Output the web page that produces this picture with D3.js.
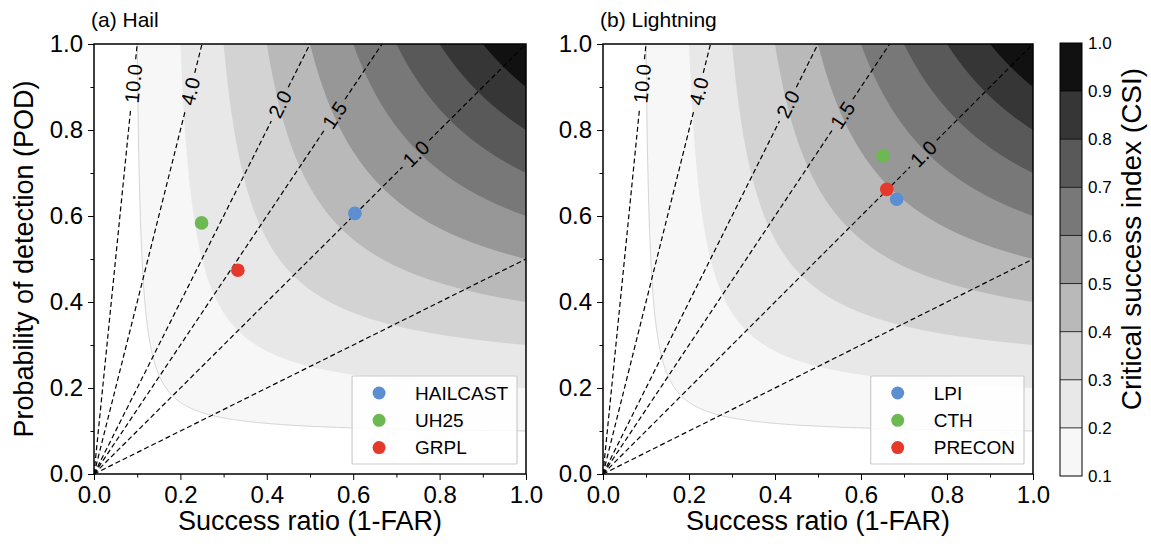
<!DOCTYPE html>
<html>
<head>
<meta charset="utf-8">
<script src="https://cdn.jsdelivr.net/npm/d3@7"></script>
<style>
  html, body { margin: 0; padding: 0; background: #fff; }
  svg { display: block; font-family: "Liberation Sans", Arial, Helvetica, sans-serif; }
</style>
</head>
<body>
<svg id="chart" width="1151" height="546"></svg>
<script>
// ---- data ----
const panelTitles = ["(a) Hail", "(b) Lightning"];

const hailNames = ["HAILCAST", "UH25", "GRPL"];
const hailSR    = [0.604, 0.249, 0.333];
const hailPOD   = [0.606, 0.584, 0.474];

const ltgNames = ["LPI", "CTH", "PRECON"];
const ltgSR    = [0.683, 0.651, 0.660];
const ltgPOD   = [0.639, 0.740, 0.662];

const markerColors = ["#5b8fd1", "#6cb952", "#e53a2b"];

// CSI filled-contour levels and their greys
const csiLevels = [0.1, 0.2, 0.3, 0.4, 0.5, 0.6, 0.7, 0.8, 0.9, 1.0];
const csiColors = ["#f7f7f7", "#e8e8e8", "#d3d3d3", "#b9b9b9", "#979797",
                   "#787878", "#595959", "#363636", "#111111"];

// frequency-bias reference lines, with label position (POD along the line)
const biasValues = [0.5, 1.0, 1.5, 2.0, 4.0, 10.0];
const biasLabels = [null, "1.0", "1.5", "2.0", "4.0", "10.0"];
const biasLabelPOD = [null, 0.745, 0.835, 0.86, 0.89, 0.908];

const axisTicks = [0.0, 0.2, 0.4, 0.6, 0.8, 1.0];
const minorTicks = [0.1, 0.3, 0.5, 0.7, 0.9];
const cbarTicks = [0.1, 0.2, 0.3, 0.4, 0.5, 0.6, 0.7, 0.8, 0.9, 1.0];

// ---- layout ----
const svg = d3.select("#chart");
const plotTop = 44, plotBottom = 474;
const panels = [
  { title: panelTitles[0], x0: 94,  x1: 526,  names: hailNames, sr: hailSR, pod: hailPOD, ylabel: true },
  { title: panelTitles[1], x0: 603, x1: 1033, names: ltgNames,  sr: ltgSR,  pod: ltgPOD,  ylabel: false }
];

const fmt = d3.format(".1f");

// CSI isoline: CSI = 1 / (1/SR + 1/POD - 1), parametrised symmetrically
function csiCurve(c, n) {
  const K = 1 / c - 1;
  const pts = [];
  for (let i = 0; i <= n; i++) {
    const u = i / n;
    pts.push([1 / (1 + K * u), 1 / (1 + K * (1 - u))]);
  }
  return pts;
}

panels.forEach((p, pi) => {
  const x = d3.scaleLinear().domain([0, 1]).range([p.x0, p.x1]);
  const y = d3.scaleLinear().domain([0, 1]).range([plotBottom, plotTop]);
  const g = svg.append("g");

  const clipId = "clip" + pi;
  svg.append("clipPath").attr("id", clipId)
    .append("rect").attr("x", p.x0).attr("y", plotTop)
    .attr("width", p.x1 - p.x0).attr("height", plotBottom - plotTop);

  const plot = g.append("g").attr("clip-path", `url(#${clipId})`);
  plot.append("rect").attr("x", p.x0).attr("y", plotTop)
    .attr("width", p.x1 - p.x0).attr("height", plotBottom - plotTop).attr("fill", "#fff");

  const line = d3.line().x(d => x(d[0])).y(d => y(d[1]));

  // filled CSI bands
  csiColors.forEach((col, i) => {
    const c = csiLevels[i];
    const pts = csiCurve(c, 1200);
    pts.push([1, 1]);
    plot.append("path").attr("d", line(pts) + "Z").attr("fill", col).attr("stroke", "none");
  });
  // faint outline of the lowest CSI level
  plot.append("path").attr("d", line(csiCurve(csiLevels[0], 1200)))
    .attr("fill", "none").attr("stroke", "#a8a8a8").attr("stroke-width", 0.5);

  // frequency-bias lines with inline labels
  biasValues.forEach((b, i) => {
    const end = b >= 1 ? [1 / b, 1] : [1, b];
    const X0 = x(0), Y0 = y(0), X1 = x(end[0]), Y1 = y(end[1]);
    const lab = biasLabels[i];
    const dash = { stroke: "#000", "stroke-width": 1.2, "stroke-dasharray": "5,3", fill: "none" };
    const seg = (a, bb) => {
      const s = plot.append("line").attr("x1", a[0]).attr("y1", a[1]).attr("x2", bb[0]).attr("y2", bb[1]);
      Object.entries(dash).forEach(([k, v]) => s.attr(k, v));
    };
    if (!lab) { seg([X0, Y0], [X1, Y1]); return; }
    const lp = biasLabelPOD[i];
    const LX = x(lp / b), LY = y(lp);
    const len = Math.hypot(X1 - X0, Y1 - Y0);
    const ux = (X1 - X0) / len, uy = (Y1 - Y0) / len;
    const angle = Math.atan2(-(Y1 - Y0), X1 - X0) * 180 / Math.PI;
    const t = g.append("text").attr("x", 0).attr("y", 0)
      .attr("transform", `translate(${LX},${LY}) rotate(${-angle})`)
      .attr("text-anchor", "middle").attr("dy", "0.36em")
      .attr("font-size", 20).attr("fill", "#000").text(lab);
    const half = t.node().getComputedTextLength() / 2 + 5;
    seg([X0, Y0], [LX - ux * half, LY - uy * half]);
    seg([LX + ux * half, LY + uy * half], [X1, Y1]);
  });

  // forecast points
  p.names.forEach((nm, i) => {
    plot.append("circle").attr("cx", x(p.sr[i])).attr("cy", y(p.pod[i]))
      .attr("r", 6.8).attr("fill", markerColors[i]);
  });

  // legend
  const legFont = 19;
  const tmp = g.append("g");
  let maxW = 0;
  p.names.forEach(nm => {
    const tt = tmp.append("text").attr("font-size", legFont).text(nm);
    maxW = Math.max(maxW, tt.node().getComputedTextLength());
  });
  tmp.remove();
  const legRight = p.x1 - 9, legW = 63 + maxW + 9;
  const legLeft = legRight - legW, legTop = 376, legBot = 464;
  const leg = g.append("g");
  leg.append("rect").attr("x", legLeft).attr("y", legTop).attr("width", legW).attr("height", legBot - legTop)
    .attr("fill", "#fff").attr("fill-opacity", 0.85).attr("stroke", "#cccccc").attr("stroke-width", 1.2).attr("rx", 1);
  p.names.forEach((nm, i) => {
    const cy = 393 + i * 27.3;
    leg.append("circle").attr("cx", legLeft + 27).attr("cy", cy).attr("r", 6.5).attr("fill", markerColors[i]);
    leg.append("text").attr("x", legLeft + 63).attr("y", cy).attr("dy", "0.36em")
      .attr("font-size", legFont).attr("fill", "#000").text(nm);
  });

  // frame
  g.append("rect").attr("x", p.x0).attr("y", plotTop).attr("width", p.x1 - p.x0)
    .attr("height", plotBottom - plotTop).attr("fill", "none").attr("stroke", "#000").attr("stroke-width", 1.5);

  // axes
  const xAxis = d3.axisBottom(x).tickValues(axisTicks).tickFormat(fmt).tickSize(6).tickPadding(6);
  const xa = g.append("g").attr("transform", `translate(0,${plotBottom})`).call(xAxis);
  const xMinor = d3.axisBottom(x).tickValues(minorTicks).tickFormat("").tickSize(3.5);
  g.append("g").attr("transform", `translate(0,${plotBottom})`).call(xMinor).call(s => s.select(".domain").remove());
  const yAxis = d3.axisLeft(y).tickValues(axisTicks).tickFormat(fmt).tickSize(6).tickPadding(5);
  const ya = g.append("g").attr("transform", `translate(${p.x0},0)`).call(yAxis);
  const yMinor = d3.axisLeft(y).tickValues(minorTicks).tickFormat("").tickSize(3.5);
  g.append("g").attr("transform", `translate(${p.x0},0)`).call(yMinor).call(s => s.select(".domain").remove());
  [xa, ya].forEach(a => {
    a.select(".domain").remove();
    a.selectAll("text").attr("font-size", 24).attr("fill", "#000")
      .attr("font-family", "'Liberation Sans', Arial, Helvetica, sans-serif");
  });
  g.selectAll(".tick line").attr("stroke", "#000").attr("stroke-width", 1);

  // titles and labels
  g.append("text").attr("x", p.x0 - 3).attr("y", 27).attr("font-size", 21).attr("fill", "#000").text(p.title);
  g.append("text").attr("x", (p.x0 + p.x1) / 2).attr("y", 530).attr("text-anchor", "middle")
    .attr("font-size", 27).attr("fill", "#000").text("Success ratio (1-FAR)");
  if (p.ylabel) {
    g.append("text").attr("transform", `translate(33,${(plotTop + plotBottom) / 2}) rotate(-90)`)
      .attr("text-anchor", "middle").attr("font-size", 27).attr("fill", "#000")
      .text("Probability of detection (POD)");
  }
});

// ---- colorbar ----
const cb = svg.append("g");
const cbX = 1060, cbW = 22, cbTop = 43, cbBot = 476;
const cy = d3.scaleLinear().domain([0.1, 1.0]).range([cbBot, cbTop]);
csiColors.forEach((col, i) => {
  cb.append("rect").attr("x", cbX).attr("y", cy(csiLevels[i + 1])).attr("width", cbW)
    .attr("height", cy(csiLevels[i]) - cy(csiLevels[i + 1])).attr("fill", col);
});
csiLevels.slice(1, -1).forEach(v => {
  cb.append("line").attr("x1", cbX).attr("x2", cbX + cbW).attr("y1", cy(v)).attr("y2", cy(v))
    .attr("stroke", "#000").attr("stroke-width", 0.8);
});
cb.append("rect").attr("x", cbX).attr("y", cbTop).attr("width", cbW).attr("height", cbBot - cbTop)
  .attr("fill", "none").attr("stroke", "#000").attr("stroke-width", 1);
cbarTicks.forEach(v => {
  cb.append("text").attr("x", cbX + cbW + 6).attr("y", cy(v)).attr("dy", "0.36em")
    .attr("font-size", 17).attr("fill", "#000").text(fmt(v));
});
cb.append("text").attr("transform", `translate(1141,239) rotate(-90)`).attr("text-anchor", "middle")
  .attr("font-size", 28).attr("fill", "#000").text("Critical success index (CSI)");
</script>
</body>
</html>
